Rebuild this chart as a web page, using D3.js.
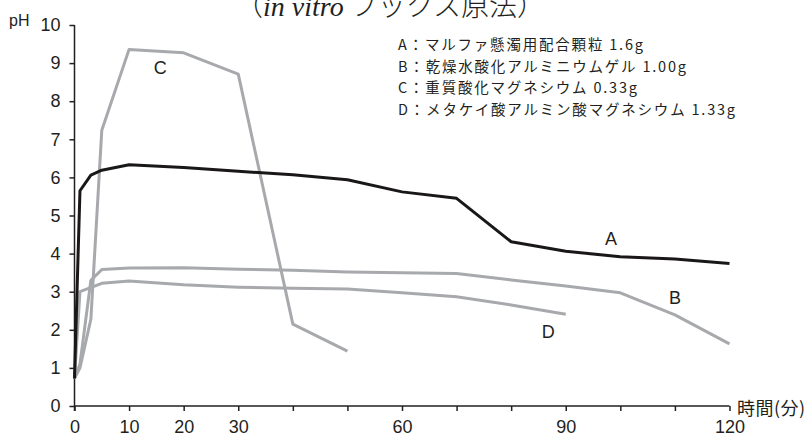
<!DOCTYPE html>
<html>
<head>
<meta charset="utf-8">
<script src="https://cdn.jsdelivr.net/npm/d3@7"></script>
<style>
  body { margin: 0; background: #fff; }
  svg { display: block; }
</style>
</head>
<body>
<script>
// time points (min) and pH values for each product
var timesA = [0, 1, 3, 5, 10, 20, 30, 40, 50, 60, 70, 80, 90, 100, 110, 120];
var phA = [0.72, 5.65, 6.06, 6.19, 6.33, 6.26, 6.16, 6.07, 5.94, 5.62, 5.45, 4.31, 4.06, 3.92, 3.86, 3.74];

var timesB = [0, 1, 3, 5, 10, 20, 30, 40, 50, 60, 70, 80, 90, 100, 110, 120];
var phB = [0.72, 1.1, 3.3, 3.58, 3.62, 3.63, 3.59, 3.56, 3.52, 3.5, 3.48, 3.31, 3.15, 2.97, 2.39, 1.63];

var timesC = [0, 1, 3, 5, 10, 20, 30, 40, 50];
var phC = [0.72, 1.0, 2.28, 7.24, 9.36, 9.27, 8.71, 2.15, 1.44];

var timesD = [0, 1, 5, 10, 20, 30, 40, 50, 60, 70, 80, 90];
var phD = [0.72, 3.0, 3.22, 3.28, 3.18, 3.12, 3.09, 3.07, 2.97, 2.87, 2.65, 2.41];

var seriesNames = ["A", "B", "C", "D"];
var legendLines = [
  "A：マルファ懸濁用配合顆粒 1.6g",
  "B：乾燥水酸化アルミニウムゲル 1.00g",
  "C：重質酸化マグネシウム 0.33g",
  "D：メタケイ酸アルミン酸マグネシウム 1.33g"
];
// label anchor points in data units (min, pH)
var labelX = [98.3, 110, 15.7, 86.8];
var labelY = [4.4, 2.85, 8.87, 1.95];

var xTicks = [0, 10, 20, 30, 40, 50, 60, 70, 80, 90, 100, 110, 120];
var xTickLabels = [0, 10, 20, 30, 60, 90, 120];
var yTicks = [0, 1, 2, 3, 4, 5, 6, 7, 8, 9, 10];

var svgWidth = 812;
var svgHeight = 439;

var svg = d3.select("body")
  .append("svg")
  .attr("width", svgWidth)
  .attr("height", svgHeight);

var xScale = d3.scaleLinear().domain([0, 120]).range([74.5, 729.5]);
var yScale = d3.scaleLinear().domain([0, 10]).range([406, 25]);

var axisColor = "#231f20";
var tickFont = "'Liberation Sans', Arial, sans-serif";
var jpFont = "'Noto Sans CJK JP', 'Noto Sans', sans-serif";

// title (clipped at the top like the source)
var title = svg.append("text")
  .attr("x", 390)
  .attr("y", 16)
  .attr("text-anchor", "middle")
  .attr("font-size", 28)
  .attr("fill", axisColor)
  .attr("font-family", "'Liberation Serif', 'Noto Sans CJK JP', serif");
title.append("tspan").attr("font-family", jpFont).attr("font-weight", 300).text("（");
title.append("tspan").attr("font-style", "italic").text("in vitro");
title.append("tspan").attr("font-family", jpFont).attr("font-weight", 300).text(" フックス原法）");

// x axis
var bottomAxis = d3.axisBottom(xScale)
  .tickValues(xTicks)
  .tickSize(5)
  .tickSizeOuter(0)
  .tickPadding(9)
  .tickFormat(d => xTickLabels.indexOf(d) >= 0 ? d : "");

var xAxisG = svg.append("g")
  .attr("transform", `translate(0, ${yScale(0)})`)
  .call(bottomAxis);

// y axis
var leftAxis = d3.axisLeft(yScale)
  .tickValues(yTicks)
  .tickSize(5)
  .tickSizeOuter(0)
  .tickPadding(9);

var yAxisG = svg.append("g")
  .attr("transform", `translate(${xScale(0)}, 0)`)
  .call(leftAxis);

[xAxisG, yAxisG].forEach(g => {
  g.select(".domain").remove();
  g.selectAll("line").attr("stroke", axisColor).attr("stroke-width", 1.5);
  g.selectAll("text")
    .attr("fill", axisColor)
    .attr("font-family", tickFont)
    .attr("font-size", 18);
});

// axis lines (y axis runs a tick length past the x axis)
svg.append("line")
  .attr("x1", xScale(0)).attr("x2", xScale(0))
  .attr("y1", yScale(10)).attr("y2", yScale(0) + 5)
  .attr("stroke", axisColor).attr("stroke-width", 1.5);
svg.append("line")
  .attr("x1", xScale(0)).attr("x2", xScale(120))
  .attr("y1", yScale(0)).attr("y2", yScale(0))
  .attr("stroke", axisColor).attr("stroke-width", 1.5);

// axis titles
svg.append("text")
  .attr("x", 9)
  .attr("y", 26)
  .attr("font-family", tickFont)
  .attr("font-size", 16)
  .attr("fill", axisColor)
  .text("pH");

svg.append("text")
  .attr("x", 737)
  .attr("y", 415)
  .attr("font-family", jpFont)
  .attr("font-size", 18)
  .attr("letter-spacing", 0.5)
  .attr("fill", axisColor)
  .text("時間(分)");

// lines
var drawLine = d3.line()
  .x(d => xScale(d[0]))
  .y(d => yScale(d[1]));

var lineData = [
  { t: timesB, v: phB, color: "#a7a9ac" },
  { t: timesC, v: phC, color: "#a7a9ac" },
  { t: timesD, v: phD, color: "#a7a9ac" },
  { t: timesA, v: phA, color: "#1a1718" }
];

lineData.forEach(s => {
  svg.append("path")
    .attr("d", drawLine(d3.zip(s.t, s.v)))
    .attr("fill", "none")
    .attr("stroke", s.color)
    .attr("stroke-width", 3)
    .attr("stroke-linejoin", "round");
});

// series labels
seriesNames.forEach((name, i) => {
  svg.append("text")
    .attr("x", xScale(labelX[i]))
    .attr("y", yScale(labelY[i]))
    .attr("dy", "0.35em")
    .attr("text-anchor", "middle")
    .attr("font-family", tickFont)
    .attr("font-size", 18)
    .attr("fill", axisColor)
    .text(name);
});

// legend
svg.append("g")
  .selectAll("text")
  .data(legendLines)
  .join("text")
  .attr("x", 398)
  .attr("y", (d, i) => 50 + i * 21.5)
  .attr("font-family", jpFont)
  .attr("font-size", 14.5)
  .attr("letter-spacing", 1.8)
  .attr("fill", axisColor)
  .text(d => d);
</script>
</body>
</html>
